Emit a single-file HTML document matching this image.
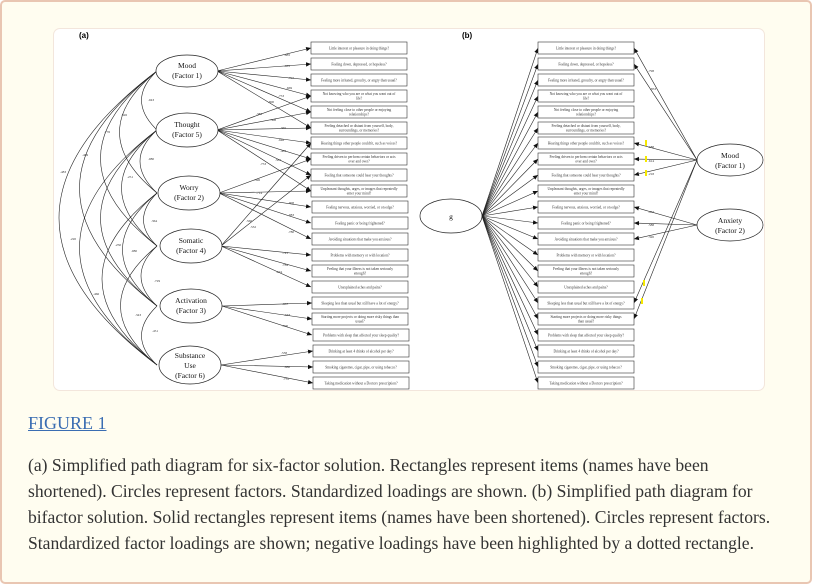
<!DOCTYPE html>
<html><head><meta charset="utf-8"><style>
html,body{margin:0;padding:0;background:#fff;}
.card{position:absolute;left:0;top:0;width:808px;height:580px;background:#fffdf0;border:2px solid #e9c6b2;border-radius:5px;}
.fig{position:absolute;left:54px;top:29px;width:710px;height:361px;background:#fff;border-radius:6px;box-shadow:0 0 0 1px #f3e6dc;}
svg{position:absolute;left:0;top:0;}
.t{font-family:"Liberation Serif",serif;}
.h{position:absolute;left:28px;top:413px;font:18px "Liberation Serif",serif;color:#3a6db2;text-decoration:underline;white-space:nowrap;}
.c{position:absolute;left:28px;top:452px;width:1000px;font:17.6px/26px "Liberation Serif",serif;color:#333;white-space:nowrap;}
</style></head><body>
<div class="card"></div>
<div class="fig"></div>
<svg width="814" height="588" viewBox="0 0 814 588" class="t">
<defs><marker id="a" markerWidth="6" markerHeight="6" refX="5" refY="3" orient="auto" markerUnits="userSpaceOnUse"><path d="M0,0.8 L5,3 L0,5.2z" fill="#111"/></marker></defs>
<text x="79" y="38" font-family="Liberation Sans" font-weight="bold" font-size="8">(a)</text>
<text x="462" y="38" font-family="Liberation Sans" font-weight="bold" font-size="8">(b)</text>
<g fill="none" stroke="#222" stroke-width="0.6">
<path d="M157 71Q126 100 157 130"/><path d="M157 71Q82 132 157 193"/><path d="M157 71Q44 158 157 246"/><path d="M157 71Q2 188 157 306"/><path d="M157 71Q-39 218 157 365"/>
<path d="M157 130Q123 161 157 193"/><path d="M157 130Q86 188 157 246"/><path d="M157 130Q44 218 157 306"/><path d="M157 130Q2 248 157 365"/>
<path d="M157 193Q130 220 157 246"/><path d="M157 193Q88 250 157 306"/><path d="M157 193Q47 279 157 365"/>
<path d="M157 246Q125 276 157 306"/><path d="M157 246Q84 306 157 365"/>
<path d="M157 306Q126 336 157 365"/>
</g>
<g fill="none" stroke="#222" stroke-width="0.6" marker-end="url(#a)">
<path d="M217 71L311 48"/><path d="M217 71L311 64"/><path d="M217 71L311 80"/><path d="M217 71L311 96"/><path d="M217 71L311 112"/><path d="M217 71L311 128"/>
<path d="M217 130L311 96"/><path d="M217 130L311 112"/><path d="M217 130L311 128"/><path d="M217 130L311 143"/><path d="M217 130L311 159"/><path d="M217 130L311 175"/><path d="M217 130L311 191"/>
<path d="M219 193L311 159"/><path d="M219 193L311 191"/><path d="M219 193L311 207"/><path d="M219 193L311 223"/><path d="M219 193L311 239"/>
<path d="M221 246L311 143"/><path d="M221 246L311 175"/><path d="M221 246L311 255"/><path d="M221 246L311 271"/><path d="M221 246L311 287"/>
<path d="M222 306L312 303"/><path d="M222 306L312 319"/><path d="M222 306L312 335"/>
<path d="M221 365L313 351"/><path d="M221 365L313 367"/><path d="M221 365L313 383"/>
<path d="M482 216L538 48"/><path d="M482 216L538 64"/><path d="M482 216L538 80"/><path d="M482 216L538 96"/><path d="M482 216L538 112"/><path d="M482 216L538 128"/><path d="M482 216L538 143"/><path d="M482 216L538 159"/><path d="M482 216L538 175"/><path d="M482 216L538 191"/><path d="M482 216L538 207"/><path d="M482 216L538 223"/><path d="M482 216L538 239"/><path d="M482 216L538 255"/><path d="M482 216L538 271"/><path d="M482 216L538 287"/><path d="M482 216L538 303"/><path d="M482 216L538 319"/><path d="M482 216L538 335"/><path d="M482 216L538 351"/><path d="M482 216L538 367"/><path d="M482 216L538 383"/>
<path d="M697 160L634 48"/><path d="M697 160L634 64"/><path d="M697 160L634 143"/><path d="M697 160L634 159"/><path d="M697 160L634 175"/><path d="M697 160L634 303"/><path d="M697 160L634 319"/>
<path d="M697 225L634 207"/><path d="M697 225L634 223"/><path d="M697 225L634 239"/>
</g>
<g fill="#f5e800"><rect x="645" y="140" width="2" height="6"/><rect x="645" y="156" width="2" height="6"/><rect x="645" y="170" width="2" height="6"/><rect x="643" y="280" width="2" height="6"/><rect x="641" y="298" width="2" height="6"/></g>
<g fill="#fff" stroke="#222" stroke-width="0.7">
<ellipse cx="187" cy="71" rx="31" ry="16"/><ellipse cx="187" cy="130" rx="31" ry="17"/><ellipse cx="189" cy="193" rx="31" ry="17"/><ellipse cx="191" cy="246" rx="31" ry="17"/><ellipse cx="191" cy="306" rx="31" ry="17"/><ellipse cx="190" cy="365" rx="31" ry="19"/>
<ellipse cx="451" cy="216" rx="31" ry="17"/><ellipse cx="730" cy="160" rx="33" ry="16"/><ellipse cx="730" cy="225" rx="33" ry="16"/>
</g>
<g font-size="7.5" text-anchor="middle" fill="#111">
<text x="187" y="68">Mood</text><text x="187" y="78">(Factor 1)</text>
<text x="187" y="127">Thought</text><text x="187" y="137">(Factor 5)</text>
<text x="189" y="190">Worry</text><text x="189" y="200">(Factor 2)</text>
<text x="191" y="243">Somatic</text><text x="191" y="253">(Factor 4)</text>
<text x="191" y="303">Activation</text><text x="191" y="313">(Factor 3)</text>
<text x="190" y="358">Substance</text><text x="190" y="368">Use</text><text x="190" y="378">(Factor 6)</text>
<text x="451" y="219">g</text>
<text x="730" y="158">Mood</text><text x="730" y="168">(Factor 1)</text>
<text x="730" y="223">Anxiety</text><text x="730" y="233">(Factor 2)</text>
</g>
<g fill="#fff" stroke="#333" stroke-width="0.6">
<rect x="311" y="42" width="96" height="12"/><rect x="311" y="58" width="96" height="12"/><rect x="311" y="74" width="96" height="12"/><rect x="311" y="90" width="96" height="12"/><rect x="311" y="106" width="96" height="12"/><rect x="311" y="122" width="96" height="12"/><rect x="311" y="137" width="96" height="12"/><rect x="311" y="153" width="96" height="12"/><rect x="311" y="169" width="96" height="12"/><rect x="311" y="185" width="96" height="12"/><rect x="312" y="201" width="96" height="12"/><rect x="312" y="217" width="96" height="12"/><rect x="312" y="233" width="96" height="12"/><rect x="312" y="249" width="96" height="12"/><rect x="312" y="265" width="96" height="12"/><rect x="312" y="281" width="96" height="12"/><rect x="312" y="297" width="96" height="12"/><rect x="312" y="313" width="96" height="12"/><rect x="313" y="329" width="96" height="12"/><rect x="313" y="345" width="96" height="12"/><rect x="313" y="361" width="96" height="12"/><rect x="313" y="377" width="96" height="12"/>
<rect x="538" y="42" width="96" height="12"/><rect x="538" y="58" width="96" height="12"/><rect x="538" y="74" width="96" height="12"/><rect x="538" y="90" width="96" height="12"/><rect x="538" y="106" width="96" height="12"/><rect x="538" y="122" width="96" height="12"/><rect x="538" y="137" width="96" height="12"/><rect x="538" y="153" width="96" height="12"/><rect x="538" y="169" width="96" height="12"/><rect x="538" y="185" width="96" height="12"/><rect x="538" y="201" width="96" height="12"/><rect x="538" y="217" width="96" height="12"/><rect x="538" y="233" width="96" height="12"/><rect x="538" y="249" width="96" height="12"/><rect x="538" y="265" width="96" height="12"/><rect x="538" y="281" width="96" height="12"/><rect x="538" y="297" width="96" height="12"/><rect x="538" y="313" width="96" height="12"/><rect x="538" y="329" width="96" height="12"/><rect x="538" y="345" width="96" height="12"/><rect x="538" y="361" width="96" height="12"/><rect x="538" y="377" width="96" height="12"/>
</g>
<g font-size="3.6" text-anchor="middle" fill="#333">
<g transform="translate(359,0)">
<text y="49.5">Little interest or pleasure in doing things?</text>
<text y="65.5">Feeling down, depressed, or hopeless?</text>
<text y="81.5">Feeling more irritated, grouchy, or angry than usual?</text>
<text y="95">Not knowing who you are or what you want out of</text><text y="99.5">life?</text>
<text y="111">Not feeling close to other people or enjoying</text><text y="115.5">relationships?</text>
<text y="127">Feeling detached or distant from yourself, body,</text><text y="131.5">surroundings, or memories?</text>
<text y="144.5">Hearing things other people couldn't, such as voices?</text>
<text y="158">Feeling driven to perform certain behaviors or acts</text><text y="162.5">over and over?</text>
<text y="176.5">Feeling that someone could hear your thoughts?</text>
<text y="190">Unpleasant thoughts, urges, or images that repeatedly</text><text y="194.5">enter your mind?</text>
<text x="1" y="208.5">Feeling nervous, anxious, worried, or on edge?</text>
<text x="1" y="224.5">Feeling panic or being frightened?</text>
<text x="1" y="240.5">Avoiding situations that make you anxious?</text>
<text x="1" y="256.5">Problems with memory or with location?</text>
<text x="1" y="270">Feeling that your illness is not taken seriously</text><text x="1" y="274.5">enough?</text>
<text x="1" y="288.5">Unexplained aches and pains?</text>
<text x="1" y="304.5">Sleeping less than usual but still have a lot of energy?</text>
<text x="1" y="318">Starting more projects or doing more risky things than</text><text x="1" y="322.5">usual?</text>
<text x="2" y="336.5">Problems with sleep that affected your sleep quality?</text>
<text x="2" y="352.5">Drinking at least 4 drinks of alcohol per day?</text>
<text x="2" y="368.5">Smoking cigarettes, cigar, pipe, or using tobacco?</text>
<text x="2" y="384.5">Taking medication without a Doctors prescription?</text>
</g>
<g transform="translate(586,0)">
<text y="49.5">Little interest or pleasure in doing things?</text>
<text y="65.5">Feeling down, depressed, or hopeless?</text>
<text y="81.5">Feeling more irritated, grouchy, or angry than usual?</text>
<text y="95">Not knowing who you are or what you want out of</text><text y="99.5">life?</text>
<text y="111">Not feeling close to other people or enjoying</text><text y="115.5">relationships?</text>
<text y="127">Feeling detached or distant from yourself, body,</text><text y="131.5">surroundings, or memories?</text>
<text y="144.5">Hearing things other people couldn't, such as voices?</text>
<text y="158">Feeling driven to perform certain behaviors or acts</text><text y="162.5">over and over?</text>
<text y="176.5">Feeling that someone could hear your thoughts?</text>
<text y="190">Unpleasant thoughts, urges, or images that repeatedly</text><text y="194.5">enter your mind?</text>
<text y="208.5">Feeling nervous, anxious, worried, or on edge?</text>
<text y="224.5">Feeling panic or being frightened?</text>
<text y="240.5">Avoiding situations that make you anxious?</text>
<text y="256.5">Problems with memory or with location?</text>
<text y="270">Feeling that your illness is not taken seriously</text><text y="274.5">enough?</text>
<text y="288.5">Unexplained aches and pains?</text>
<text y="304.5">Sleeping less than usual but still have a lot of energy?</text>
<text y="318">Starting more projects or doing more risky things</text><text y="322.5">than usual?</text>
<text y="336.5">Problems with sleep that affected your sleep quality?</text>
<text y="352.5">Drinking at least 4 drinks of alcohol per day?</text>
<text y="368.5">Smoking cigarettes, cigar, pipe, or using tobacco?</text>
<text y="384.5">Taking medication without a Doctors prescription?</text>
</g>
</g>
<g font-size="3.5" fill="#333">
<text x="284" y="56">.885</text><text x="284" y="67">.905</text><text x="288" y="79">.797</text><text x="286" y="89">.669</text><text x="278" y="97">.753</text><text x="268" y="103">.800</text>
<text x="256" y="115">.385</text><text x="270" y="121">.308</text><text x="280" y="129">.365</text><text x="278" y="141">.946</text><text x="280" y="152">.483</text><text x="275" y="161">.584</text><text x="260" y="165">.753</text>
<text x="254" y="181">.596</text><text x="256" y="194">.714</text><text x="288" y="204">.908</text><text x="288" y="216">.983</text><text x="288" y="233">.780</text>
<text x="246" y="222">.566</text><text x="250" y="228">.532</text><text x="282" y="254">.741</text><text x="282" y="266">.784</text><text x="276" y="273">.674</text>
<text x="282" y="305">.857</text><text x="284" y="316">.563</text><text x="282" y="327">.790</text>
<text x="281" y="354">.538</text><text x="284" y="368">.880</text><text x="283" y="380">.735</text>
<text x="148" y="101">.043</text><text x="121" y="116">.826</text><text x="104" y="133">.776</text><text x="82" y="156">.469</text><text x="60" y="173">.483</text>
<text x="148" y="160">.080</text><text x="127" y="178">.251</text><text x="115" y="246">.250</text><text x="70" y="240">.220</text>
<text x="151" y="222">.364</text><text x="131" y="252">.080</text><text x="93" y="295">.466</text>
<text x="154" y="282">.729</text><text x="135" y="316">.343</text><text x="152" y="332">.451</text>
<text x="648" y="72">.798</text><text x="650" y="90">.853</text><text x="648" y="148">.588</text><text x="648" y="162">.614</text><text x="648" y="175">.218</text>
<text x="648" y="213">.472</text><text x="648" y="226">.588</text><text x="648" y="238">.320</text>
</g>
</svg>
<div class="h">FIGURE 1</div>
<div class="c">(a) Simplified path diagram for six-factor solution. Rectangles represent items (names have been<br>shortened). Circles represent factors. Standardized loadings are shown. (b) Simplified path diagram for<br>bifactor solution. Solid rectangles represent items (names have been shortened). Circles represent factors.<br>Standardized factor loadings are shown; negative loadings have been highlighted by a dotted rectangle.</div>
</body></html>
